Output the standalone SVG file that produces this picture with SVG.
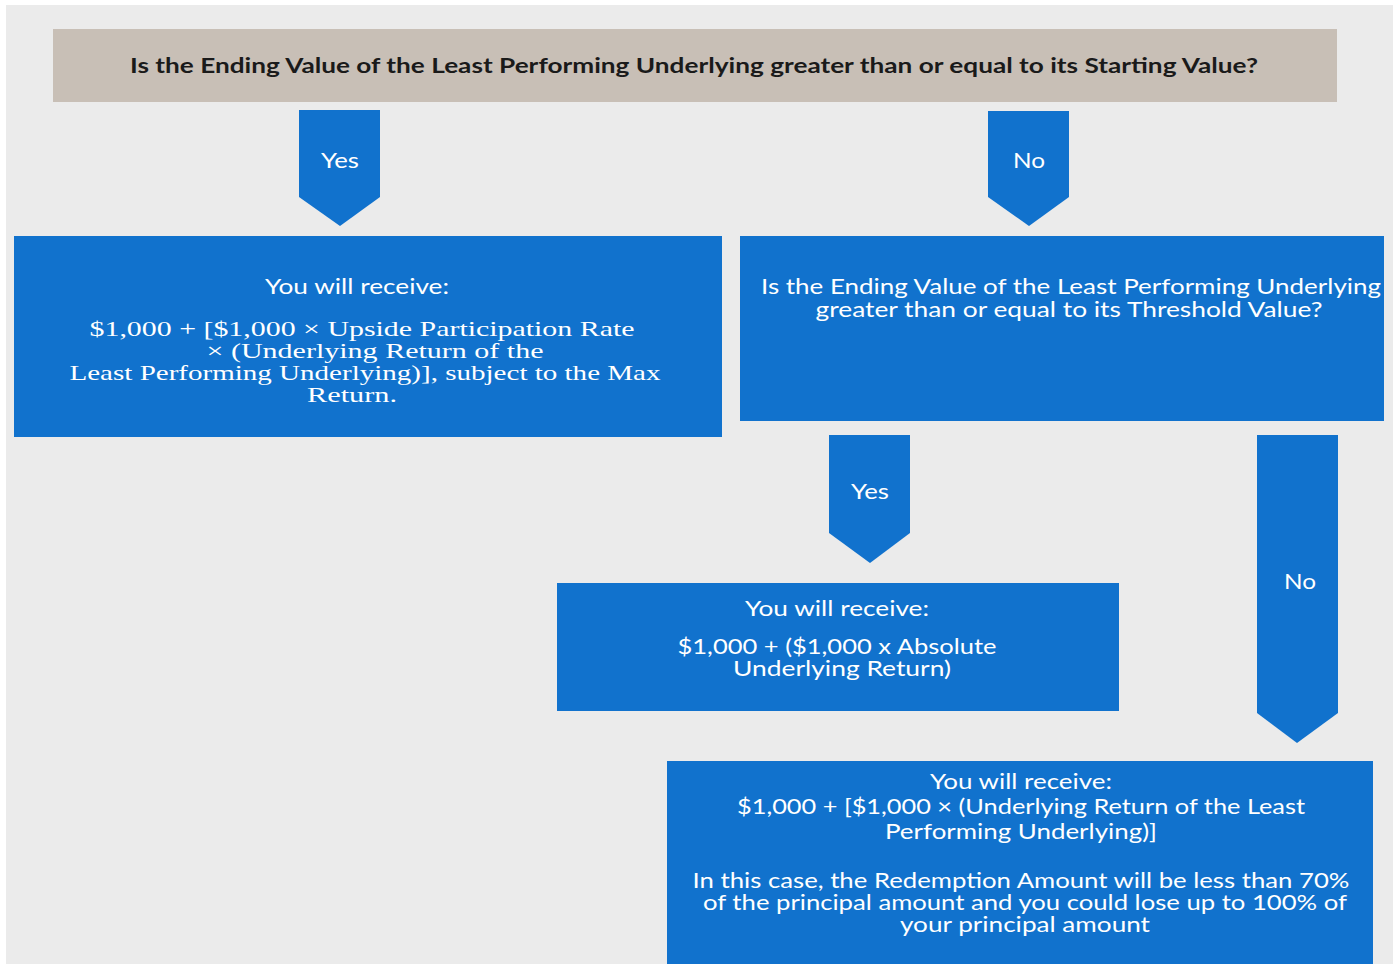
<svg xmlns="http://www.w3.org/2000/svg" width="1393" height="964" viewBox="0 0 1393 964">
<style>
.box{fill:#1172cd}
.arrow{fill:#1172cd}
.title{fill:#c8bfb6}
.t{font-family:Lato,"Open Sans","Liberation Sans",sans-serif;fill:#ffffff;text-anchor:middle;font-size:21px}
.s{font-family:"Liberation Serif","DejaVu Serif",serif;fill:#ffffff;text-anchor:middle;font-size:21px}
.h{font-family:Lato,"Open Sans","Liberation Sans",sans-serif;fill:#1a1a1a;text-anchor:middle;font-size:20px;font-weight:bold}
.lbl{font-family:Lato,"Open Sans","Liberation Sans",sans-serif;fill:#ffffff;text-anchor:middle;font-size:21px}
</style>
<rect x="0" y="0" width="1393" height="964" fill="#ffffff"/>
<rect x="6" y="5" width="1387" height="959" fill="#ebebeb"/>

<g id="question1">
<rect class="title" x="53" y="29" width="1284" height="73"/>
<text class="h" x="694" y="73" textLength="1128" lengthAdjust="spacingAndGlyphs">Is the Ending Value of the Least Performing Underlying greater than or equal to its Starting Value?</text>
</g>

<g id="connectors">
<g id="yes1">
<polygon class="arrow" points="299,110 380,110 380,197 340,226 299,197"/>
<text class="lbl" x="340" y="168" textLength="38" lengthAdjust="spacingAndGlyphs">Yes</text>
</g>
<g id="no1">
<polygon class="arrow" points="988,111 1069,111 1069,197 1029,226 988,197"/>
<text class="lbl" x="1029" y="168" textLength="32" lengthAdjust="spacingAndGlyphs">No</text>
</g>
<g id="yes2">
<polygon class="arrow" points="829,435 910,435 910,533 870,563 829,533"/>
<text class="lbl" x="870" y="499" textLength="38" lengthAdjust="spacingAndGlyphs">Yes</text>
</g>
<g id="no2">
<polygon class="arrow" points="1257,435 1338,435 1338,713 1297,743 1257,713"/>
<text class="lbl" x="1300" y="589" textLength="32" lengthAdjust="spacingAndGlyphs">No</text>
</g>
</g>

<g id="result-above-start">
<rect class="box" x="14" y="236" width="708" height="201"/>
<text class="t" x="357" y="294" textLength="184" lengthAdjust="spacingAndGlyphs">You will receive:</text>
<text class="s" x="362" y="336" textLength="545" lengthAdjust="spacingAndGlyphs">$1,000 + [$1,000  × Upside Participation Rate</text>
<text class="s" x="375" y="358" textLength="337" lengthAdjust="spacingAndGlyphs">× (Underlying Return of the</text>
<text class="s" x="365" y="380" textLength="591" lengthAdjust="spacingAndGlyphs">Least Performing Underlying)], subject to the Max</text>
<text class="s" x="352" y="402" textLength="90" lengthAdjust="spacingAndGlyphs">Return.</text>
</g>

<g id="question2">
<rect class="box" x="740" y="236" width="644" height="185"/>
<text class="t" x="1071" y="294" textLength="620" lengthAdjust="spacingAndGlyphs">Is the Ending Value of the Least Performing Underlying</text>
<text class="t" x="1069" y="317" textLength="507" lengthAdjust="spacingAndGlyphs">greater than or equal to its Threshold Value?</text>
</g>

<g id="result-above-threshold">
<rect class="box" x="557" y="583" width="562" height="128"/>
<text class="t" x="837" y="616" textLength="184" lengthAdjust="spacingAndGlyphs">You will receive:</text>
<text class="t" x="837" y="654" textLength="319" lengthAdjust="spacingAndGlyphs">$1,000 + ($1,000 x Absolute</text>
<text class="t" x="842" y="676" textLength="218" lengthAdjust="spacingAndGlyphs">Underlying Return)</text>
</g>

<g id="result-below-threshold">
<rect class="box" x="667" y="761" width="706" height="203"/>
<text class="t" x="1021" y="789" textLength="182" lengthAdjust="spacingAndGlyphs">You will receive:</text>
<text class="t" x="1021" y="814" textLength="568" lengthAdjust="spacingAndGlyphs">$1,000 + [$1,000 × (Underlying Return of the Least</text>
<text class="t" x="1021" y="839" textLength="272" lengthAdjust="spacingAndGlyphs">Performing Underlying)]</text>
<text class="t" x="1021" y="888" textLength="657" lengthAdjust="spacingAndGlyphs">In this case, the Redemption Amount will be less than 70%</text>
<text class="t" x="1025" y="910" textLength="644" lengthAdjust="spacingAndGlyphs">of the principal amount and you could lose up to 100% of</text>
<text class="t" x="1025" y="932" textLength="250" lengthAdjust="spacingAndGlyphs">your principal amount</text>
</g>
</svg>
